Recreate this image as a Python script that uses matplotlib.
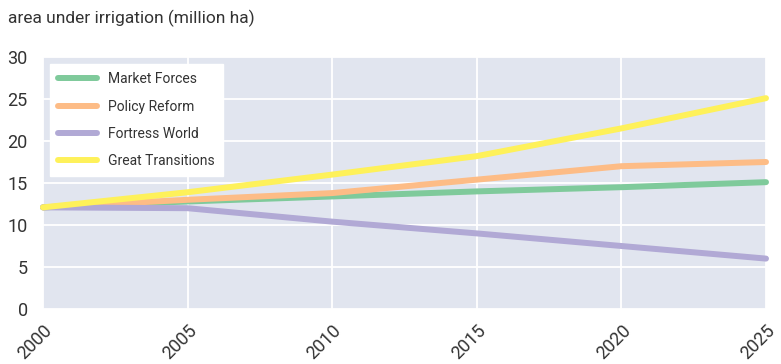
import matplotlib
matplotlib.use("Agg")
import matplotlib.pyplot as plt
from matplotlib import font_manager

years = [2000, 2005, 2010, 2015, 2020, 2025]
market_forces = [12.1, 12.8, 13.4, 14.0, 14.5, 15.1]
policy_reform = [12.1, 13.0, 13.8, 15.4, 17.0, 17.5]
fortress_world = [12.1, 12.0, 10.4, 9.0, 7.5, 6.0]
great_transitions = [12.1, 13.9, 16.0, 18.2, 21.5, 25.1]

series = [
    ("Market Forces", market_forces, "#7fca9b"),
    ("Policy Reform", policy_reform, "#fdbc86"),
    ("Fortress World", fortress_world, "#b1a9d5"),
    ("Great Transitions", great_transitions, "#fef15a"),
]

installed = {f.name for f in font_manager.fontManager.ttflist}
family = [f for f in ["Liberation Sans Narrow", "Roboto", "DejaVu Sans"] if f in installed]
plt.rcParams["font.family"] = family
text_color = "#333333"

fig = plt.figure(figsize=(7.81, 3.64), dpi=100)
ax = fig.add_axes([43 / 781, 1 - 309 / 364, 723 / 781, 252 / 364])
ax.set_facecolor("#e1e5ef")

for name, vals, color in series:
    ax.plot(years, vals, color=color, lw=4.3, solid_capstyle="round",
            label=name, clip_on=False, zorder=3)

ax.set_xlim(2000, 2025)
ax.set_ylim(0, 30)
ax.set_xticks(years)
ax.set_yticks(range(0, 31, 5))
ax.grid(True, color="white", lw=1.3)
ax.set_axisbelow(True)
for s in ax.spines.values():
    s.set_visible(False)

ax.tick_params(axis="both", length=0, labelsize=13, labelcolor=text_color)
ax.tick_params(axis="y", pad=11)
ax.tick_params(axis="x", pad=9)
for lbl in ax.get_xticklabels():
    lbl.set_rotation(45)
    lbl.set_rotation_mode("anchor")
    lbl.set_ha("right")
    lbl.set_va("top")

leg = ax.legend(loc="upper left", bbox_to_anchor=(7 / 723, 245 / 252),
                borderaxespad=0, fontsize=10, frameon=True, fancybox=False,
                handlelength=2.75, handletextpad=0.85, labelspacing=0.95,
                borderpad=0.6)
leg.get_frame().set_facecolor("white")
leg.get_frame().set_edgecolor("white")
leg.get_frame().set_alpha(1)
for t in leg.get_texts():
    t.set_color(text_color)

fig.text(8 / 781, 1 - 18 / 364, "area under irrigation (million ha)",
         fontsize=12.5, color=text_color, va="center", ha="left")

fig.savefig("out.png", dpi=100)
